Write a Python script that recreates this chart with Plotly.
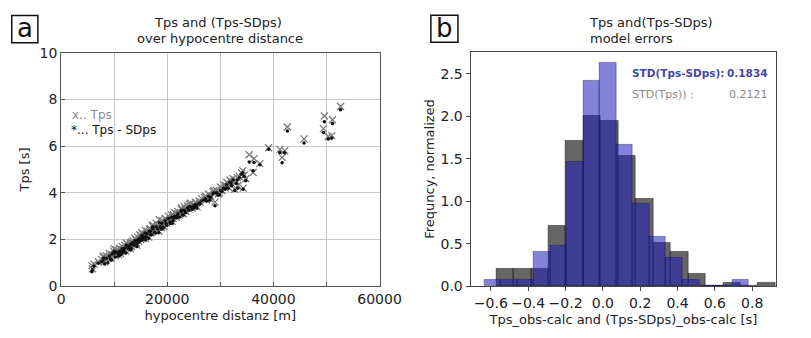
import plotly.graph_objects as go

W, H = 811, 338

# ---------------- panel a data ----------------
dist_m = [5800, 5900, 7600, 7900, 8200, 8500, 8800, 9100, 9300, 9600, 9900, 10200, 10400, 10700,
          11000, 11200, 11500, 11800, 12000, 12200, 12500, 12700, 13000, 13200, 13500, 13700,
          14000, 14200, 14400, 14600, 14800, 15000, 15200, 15400, 15600, 15800, 16000, 16200,
          16500, 16800, 17000, 17300, 17600, 17900, 18200, 18400, 18700, 19000, 19300, 19600,
          19900, 20200, 20500, 20800, 21100, 21400, 21700, 22000, 22300, 22600, 22900, 23200,
          23500, 23800, 24100, 24400, 24700, 25000, 25300, 25600, 26000, 26500, 27000, 27400,
          27800, 28200, 28600, 29000, 29300, 29600, 30000, 30300, 30600, 30900, 31200, 31500,
          31800, 32100, 32400, 32700, 33000, 33300, 33600, 34000, 34300, 34500,
          35440, 36350, 37440, 36170, 34230, 39090, 41220, 42120, 41640, 42620, 45770,
          49420, 49600, 50330, 51000, 51120, 52650,
          10900, 12900, 14900, 16900, 18900, 20900, 23000, 25100, 13300, 15300, 17300, 11300,
          6200, 7000, 8000, 9500, 10000, 10800, 11600, 12300, 13100, 13900, 14300, 15100,
          15900, 16600, 17200, 17800, 18500, 19200, 19800, 20600, 21200, 21900, 22700, 23400,
          24200, 24900, 25500, 26200, 27200, 28000, 28800, 29800, 31000, 32000, 33200, 34800]
tps = [0.88, 0.75, 1.15, 1.25, 1.05, 1.30, 1.18, 1.40, 1.22, 1.35, 1.50, 1.30, 1.55, 1.45,
       1.62, 1.40, 1.70, 1.55, 1.75, 1.50, 1.80, 1.65, 1.85, 1.70, 1.95, 1.78,
       2.00, 1.85, 2.10, 1.92, 2.20, 2.00, 2.30, 2.05, 2.15, 2.40, 2.20, 2.35,
       2.10, 2.45, 2.30, 2.55, 2.40, 2.70, 2.60, 2.35, 2.65, 2.80, 2.55, 2.90,
       2.70, 3.00, 2.80, 3.05, 2.90, 3.15, 2.95, 3.20, 3.05, 3.30, 3.10, 3.40,
       3.20, 3.45, 3.30, 3.55, 3.35, 3.50, 3.60, 3.40, 3.65, 3.75, 3.80, 3.70,
       3.95, 3.85, 4.05, 3.60, 4.10, 3.95, 4.25, 4.10, 4.35, 4.20, 4.45, 4.25,
       4.55, 4.40, 4.60, 4.15, 4.50, 4.30, 4.70, 4.85, 4.20, 4.75,
       5.63, 5.46, 5.25, 4.87, 4.95, 5.93, 5.86, 5.80, 5.52, 6.82, 6.31,
       6.75, 7.29, 6.41, 6.45, 7.13, 7.70,
       1.48, 1.72, 2.05, 2.28, 2.50, 2.78, 3.12, 3.42, 1.90, 2.25, 2.62, 1.58,
       0.95, 1.05, 1.30, 1.20, 1.60, 1.35, 1.50, 1.85, 1.60, 2.05, 1.75, 2.15,
       2.05, 2.45, 2.60, 2.35, 2.85, 2.60, 2.75, 2.80, 3.05, 3.10, 3.35, 3.25,
       3.50, 3.45, 3.55, 3.60, 3.85, 3.75, 4.10, 4.00, 4.30, 4.50, 4.65, 4.60]
tps_sdps = [0.62, 0.70, 1.05, 1.10, 0.95, 1.20, 1.00, 1.28, 1.15, 1.38, 1.40, 1.25, 1.45, 1.40,
            1.50, 1.35, 1.60, 1.52, 1.62, 1.42, 1.70, 1.60, 1.78, 1.62, 1.85, 1.75,
            1.90, 1.80, 1.98, 1.88, 2.05, 1.95, 2.15, 2.00, 2.10, 2.28, 2.12, 2.25,
            2.05, 2.35, 2.20, 2.45, 2.30, 2.55, 2.45, 2.30, 2.55, 2.70, 2.50, 2.80,
            2.60, 2.90, 2.75, 2.95, 2.80, 3.00, 2.92, 3.10, 2.95, 3.20, 3.05, 3.25,
            3.15, 3.35, 3.25, 3.40, 3.30, 3.45, 3.50, 3.35, 3.55, 3.65, 3.70, 3.65,
            3.85, 3.80, 3.95, 3.45, 4.00, 3.90, 4.10, 4.05, 4.20, 4.15, 4.35, 4.20,
            4.45, 4.30, 4.55, 4.10, 4.40, 4.20, 4.65, 4.80, 4.15, 4.70,
            5.32, 5.30, 5.20, 4.95, 4.85, 5.87, 5.73, 5.72, 5.29, 6.65, 6.13,
            6.58, 7.05, 6.31, 6.35, 6.97, 7.56,
            1.40, 1.66, 1.98, 2.20, 2.44, 2.70, 3.05, 3.35, 1.84, 2.18, 2.55, 1.50,
            0.85, 0.98, 1.20, 1.12, 1.50, 1.28, 1.42, 1.75, 1.55, 1.95, 1.70, 2.05,
            1.98, 2.35, 2.50, 2.28, 2.72, 2.52, 2.68, 2.70, 2.95, 3.00, 3.25, 3.18,
            3.40, 3.38, 3.45, 3.52, 3.75, 3.68, 4.00, 3.92, 4.20, 4.42, 4.55, 4.52]

# ---------------- panel b data ----------------
tps_bin_start, tps_bin_width = -0.5715, 0.0935
tps_density = [0.20, 0.20, 0.20, 0.71, 1.71, 2.01, 1.95, 1.54, 1.03, 0.51, 0.41, 0.14, 0.0, 0.035, 0.0, 0.035]
sd_bin_start, sd_bin_width = -0.635, 0.0885
sd_density = [0.07, 0.07, 0.07, 0.41, 0.47, 1.47, 2.42, 2.63, 1.66, 0.97, 0.58, 0.33, 0.07, 0.0, 0.0, 0.07]

std_sd, std_tps = "0.1834", "0.2121"

xticks_a = [0, 10000, 20000, 30000, 40000, 50000, 60000]
xtext_a = ["0", "", "20000", "", "40000", "", "60000"]

tps_centers = [tps_bin_start + tps_bin_width * (i + 0.5) for i in range(len(tps_density))]
sd_centers = [sd_bin_start + sd_bin_width * (i + 0.5) for i in range(len(sd_density))]

FONT = "DejaVu Sans"
fig = go.Figure()

fig.add_trace(go.Scatter(x=dist_m, y=tps, mode="markers", xaxis="x", yaxis="y",
                         marker=dict(symbol="x-thin-open", size=7, color="#7a7a7a",
                                     line=dict(width=1.3, color="#7a7a7a")),
                         showlegend=False))
fig.add_trace(go.Scatter(x=dist_m, y=tps_sdps, mode="markers", xaxis="x", yaxis="y",
                         marker=dict(symbol="circle", size=3.5, color="#111111"),
                         showlegend=False))

fig.add_trace(go.Bar(x=tps_centers, y=tps_density, width=tps_bin_width, xaxis="x2", yaxis="y2",
                     marker=dict(color="rgba(0,0,0,0.6)", line=dict(color="rgba(0,0,0,0.55)", width=0.8)),
                     showlegend=False))
fig.add_trace(go.Bar(x=sd_centers, y=sd_density, width=sd_bin_width, xaxis="x2", yaxis="y2",
                     marker=dict(color="rgba(30,30,185,0.55)", line=dict(color="rgba(0,0,70,0.45)", width=0.8)),
                     showlegend=False))

def px(xp):
    return xp / W

def py(yp):
    return 1 - yp / H

tickfont = dict(family=FONT, size=14, color="#222222")
labfont = dict(family=FONT, size=13, color="#222222")

fig.update_layout(
    width=W, height=H, margin=dict(l=0, r=0, t=0, b=0),
    paper_bgcolor="white", plot_bgcolor="white",
    barmode="overlay", bargap=0,
    font=dict(family=FONT, color="#222222"),
    xaxis=dict(domain=[px(59), px(388)], range=[0, 60000], tickvals=xticks_a, ticktext=xtext_a,
               showgrid=True, gridcolor="#c8c8c8", gridwidth=1, zeroline=False,
               showline=True, linecolor="#555555", linewidth=1, mirror=True,
               ticks="inside", ticklen=4, tickcolor="#555555", tickfont=tickfont,
               title=dict(text="hypocentre distanz [m]", font=labfont, standoff=4), anchor="y"),
    yaxis=dict(domain=[py(292), py(47)], range=[0, 10], tickvals=[0, 2, 4, 6, 8, 10],
               showgrid=True, gridcolor="#c8c8c8", gridwidth=1, zeroline=False,
               showline=True, linecolor="#555555", linewidth=1, mirror=True,
               ticks="inside", ticklen=4, tickcolor="#555555", tickfont=tickfont,
               title=dict(text="Tps [s]", font=labfont, standoff=6), anchor="x"),
    xaxis2=dict(domain=[px(482), px(798)], range=[-0.709, 0.93], tickvals=[-0.6, -0.4, -0.2, 0, 0.2, 0.4, 0.6, 0.8],
                tickformat=".1f", showgrid=False, zeroline=False,
                showline=True, linecolor="#444444", linewidth=1, mirror=True,
                ticks="outside", ticklen=4, tickcolor="#444444", tickfont=tickfont,
                title=dict(text="Tps_obs-calc and (Tps-SDps)_obs-calc [s]", font=labfont, standoff=4),
                anchor="y2"),
    yaxis2=dict(domain=[py(292), py(46)], range=[0, 2.76], tickvals=[0, 0.5, 1.0, 1.5, 2.0, 2.5],
                tickformat=".1f", showgrid=False, zeroline=False,
                showline=True, linecolor="#444444", linewidth=1, mirror=True,
                ticks="outside", ticklen=4, tickcolor="#444444", tickfont=tickfont,
                title=dict(text="Frequncy, normalized", font=labfont, standoff=2), anchor="x2"),
)

ann = []
def text(x, y, s, size=13, color="#222222", xanchor="center", bold=False):
    ann.append(dict(x=px(x), y=py(y), xref="paper", yref="paper", text=("<b>%s</b>" % s) if bold else s,
                    showarrow=False, xanchor=xanchor, yanchor="middle",
                    font=dict(family=FONT, size=size, color=color)))

text(221, 15, "Tps and (Tps-SDps)")
text(223, 32, "over hypocentre distance")
text(668, 15, "Tps and(Tps-SDps)")
text(648, 32, "model errors")
text(68, 112, "x.. Tps", size=12, color="#8a8a8a", xanchor="left")
text(67, 128, "*... Tps - SDps", size=12, color="#111111", xanchor="left")
text(647, 68, "STD(Tps-SDps):", size=10.5, color="#4646a8", xanchor="left", bold=True)
text(791, 68, std_sd, size=10.5, color="#4646a8", xanchor="right", bold=True)
text(647, 91, "STD(Tps)) :", size=11, color="#8a8a8a", xanchor="left")
text(791, 91, std_tps, size=11, color="#8a8a8a", xanchor="right")
text(21.5, 21, "a", size=26, color="#111111")
text(455, 21, "b", size=26, color="#111111")
fig.update_layout(annotations=ann)

shapes = []
for (x0, x1, y0, y1) in [(8, 35, 8, 36.5), (441, 469, 7.5, 36)]:
    shapes.append(dict(type="rect", xref="paper", yref="paper", x0=px(x0), x1=px(x1), y0=py(y1), y1=py(y0),
                       line=dict(color="#111111", width=1.5)))
fig.update_layout(shapes=shapes)

fig.write_html("out.html")
